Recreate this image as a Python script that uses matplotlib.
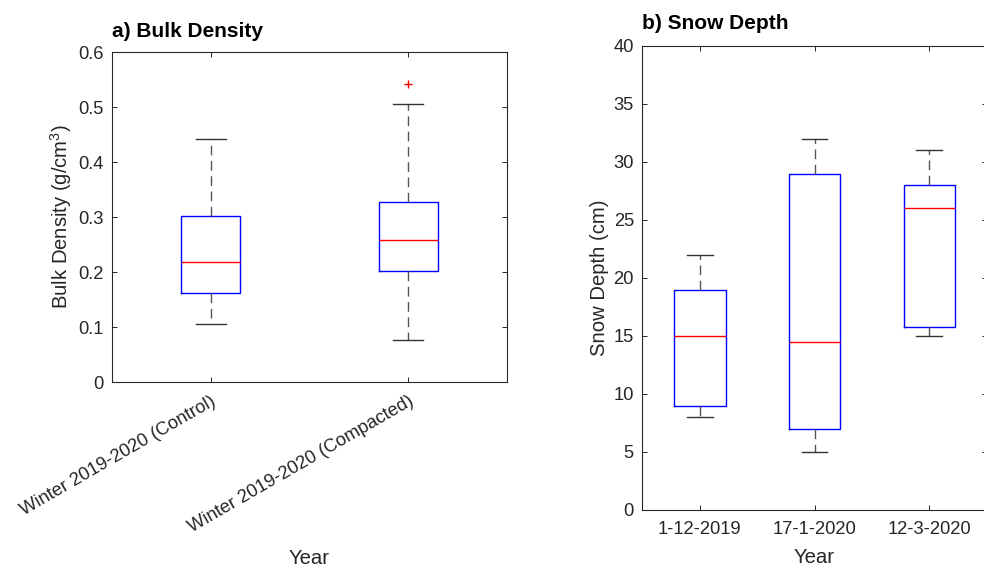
import matplotlib
matplotlib.use("Agg")
import matplotlib.pyplot as plt

# --- box statistics -----------------------------------------------------------
bd_labels = ["Winter 2019-2020 (Control)", "Winter 2019-2020 (Compacted)"]
bd_whislo = [0.105, 0.077]
bd_q1 = [0.161, 0.202]
bd_med = [0.218, 0.259]
bd_q3 = [0.301, 0.327]
bd_whishi = [0.441, 0.506]
bd_fliers = [[], [0.542]]

sd_labels = ["1-12-2019", "17-1-2020", "12-3-2020"]
sd_whislo = [8.0, 5.0, 15.0]
sd_q1 = [9.0, 7.0, 15.8]
sd_med = [15.0, 14.5, 26.0]
sd_q3 = [19.0, 29.0, 28.0]
sd_whishi = [22.0, 32.0, 31.0]
sd_fliers = [[], [], []]

INK = "#262626"
TICK_FS, LABEL_FS, TITLE_FS = 13.2, 14.6, 15.0
plt.rcParams.update({
    "font.family": ["Liberation Sans", "DejaVu Sans"],
    "mathtext.fontset": "custom",
    "mathtext.rm": "Liberation Sans",
    "mathtext.it": "Liberation Sans:italic",
    "mathtext.bf": "Liberation Sans:bold",
    "axes.edgecolor": INK, "axes.linewidth": 0.8,
    "xtick.color": INK, "ytick.color": INK,
    "xtick.labelcolor": INK, "ytick.labelcolor": INK,
    "axes.labelcolor": INK,
    "xtick.direction": "in", "ytick.direction": "in",
    "xtick.top": True, "ytick.right": True,
    "xtick.major.size": 3.5, "ytick.major.size": 3.5,
    "xtick.major.width": 0.7, "ytick.major.width": 0.7,
    "xtick.labelsize": TICK_FS, "ytick.labelsize": TICK_FS,
})


def stats(labels, lo, q1, med, q3, hi, fl):
    return [dict(label=l, whislo=a, q1=b, med=c, q3=d, whishi=e, fliers=f)
            for l, a, b, c, d, e, f in zip(labels, lo, q1, med, q3, hi, fl)]


def draw(ax, st, width):
    ax.bxp(st, widths=width, capwidths=width / 2, showfliers=True,
           boxprops=dict(color="#0000ff", linewidth=1.0),
           medianprops=dict(color="#ff0000", linewidth=1.0),
           whiskerprops=dict(color="#555555", linewidth=1.0,
                             linestyle=(0, (7, 4))),
           capprops=dict(color="#333333", linewidth=1.0),
           flierprops=dict(marker="+", markeredgecolor="#ff0000",
                           markersize=6, markeredgewidth=1.0, linestyle="none"))


fig = plt.figure(figsize=(9.84, 5.69), dpi=100)

# a) bulk density
ax1 = fig.add_axes([0.1138, 0.3286, 0.4014, 0.58])
draw(ax1, stats(bd_labels, bd_whislo, bd_q1, bd_med, bd_q3, bd_whishi, bd_fliers), 0.3)
ax1.set_xlim(0.5, 2.5)
ax1.set_ylim(0, 0.6)
ax1.set_yticks([0, 0.1, 0.2, 0.3, 0.4, 0.5, 0.6])
ax1.set_yticklabels(["0", "0.1", "0.2", "0.3", "0.4", "0.5", "0.6"])
ax1.set_xticklabels(bd_labels, rotation=30, ha="right", rotation_mode="anchor")
ax1.set_ylabel("Bulk Density (g/cm$^3$)", fontsize=LABEL_FS, labelpad=3)
ax1.set_xlabel("Year", fontsize=LABEL_FS, labelpad=9)
ax1.set_title("a) Bulk Density", loc="left", fontweight="bold", fontsize=TITLE_FS, pad=11)

# b) snow depth
ax2 = fig.add_axes([0.6527, 0.1037, 0.3501, 0.8155])
draw(ax2, stats(sd_labels, sd_whislo, sd_q1, sd_med, sd_q3, sd_whishi, sd_fliers), 0.45)
ax2.set_xlim(0.5, 3.5)
ax2.set_ylim(0, 40)
ax2.set_yticks(range(0, 41, 5))
ax2.set_ylabel("Snow Depth (cm)", fontsize=LABEL_FS, labelpad=3)
ax2.set_xlabel("Year", fontsize=LABEL_FS, labelpad=7)
ax2.set_title("b) Snow Depth", loc="left", fontweight="bold", fontsize=TITLE_FS, pad=12)

for ax in (ax1, ax2):
    ax.tick_params(axis="y", pad=6)
    ax.tick_params(axis="x", pad=8)

fig.savefig("out.png", dpi=100)
